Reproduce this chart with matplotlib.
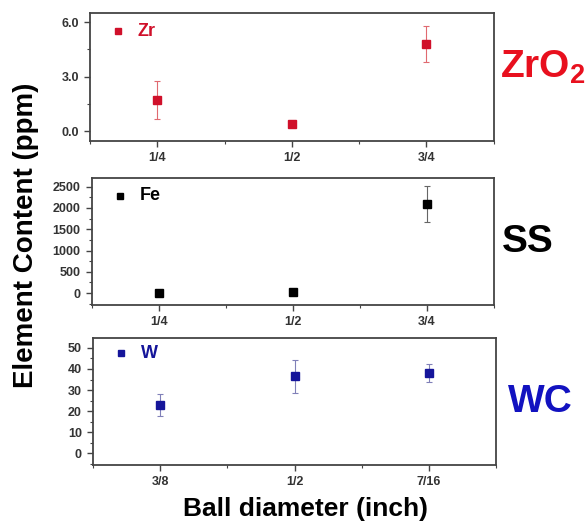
import numpy as np
import matplotlib
matplotlib.use('Agg')
import matplotlib.pyplot as plt
from matplotlib.ticker import MultipleLocator

plt.rcParams['font.family'] = ['Liberation Sans', 'DejaVu Sans']
plt.rcParams['mathtext.fontset'] = 'custom'
plt.rcParams['mathtext.rm'] = 'Liberation Sans:bold'

# data
zr_labels = ['1/4', '1/2', '3/4']
zr_vals = [1.7, 0.4, 4.8]
zr_err = [1.05, 0.1, 1.0]

fe_labels = ['1/4', '1/2', '3/4']
fe_vals = [10, 20, 2090]
fe_err = [15, 15, 420]

w_labels = ['3/8', '1/2', '7/16']
w_vals = [23, 36.5, 38]
w_err = [5.2, 7.8, 4.3]

panels = [
    dict(labels=zr_labels, vals=zr_vals, err=zr_err, color='#d0102a', ecolor='#e06a70',
         leg='Zr', side='ZrO$_\\mathrm{2}$', scolor='#e8101e', ylim=(-0.55, 6.5), major=3.0, minor=1.5,
         fmt='%.1f', rect=[0.154, 0.730, 0.690, 0.245], ly=0.86, sx=0.855, sy=0.851),
    dict(labels=fe_labels, vals=fe_vals, err=fe_err, color='black', ecolor='#666666',
         leg='Fe', side='SS', scolor='black', ylim=(-280, 2710), major=500, minor=250,
         fmt='%d', rect=[0.157, 0.417, 0.687, 0.243], ly=0.86, sx=0.858, sy=0.518),
    dict(labels=w_labels, vals=w_vals, err=w_err, color='#15159a', ecolor='#8080b8',
         leg='W', side='WC', scolor='#1212c0', ylim=(-5.6, 54.8), major=10, minor=5,
         fmt='%d', rect=[0.159, 0.111, 0.689, 0.243], ly=0.88, sx=0.868, sy=0.212),
]

fig = plt.figure(figsize=(5.85, 5.23), dpi=100)

for p in panels:
    ax = fig.add_axes(p['rect'])
    x = np.arange(1, len(p['vals']) + 1)
    ax.errorbar(x, p['vals'], yerr=p['err'], fmt='none', ecolor=p['ecolor'],
                elinewidth=0.8, capsize=2.5, capthick=0.8)
    ax.plot(x, p['vals'], 's', color=p['color'], markersize=6)
    # legend entry
    ax.plot([0.07], [p['ly']], 's', color=p['color'], markersize=4.5, transform=ax.transAxes)
    ax.text(0.118, p['ly'], p['leg'], color=p['color'], fontsize=13, fontweight='bold',
            va='center', ha='left', transform=ax.transAxes)
    ax.set_xlim(0.5, 3.5)
    ax.set_ylim(*p['ylim'])
    ax.set_xticks(x)
    ax.set_xticklabels(p['labels'])
    ax.xaxis.set_minor_locator(MultipleLocator(0.5))
    ax.yaxis.set_major_locator(MultipleLocator(p['major']))
    ax.yaxis.set_minor_locator(MultipleLocator(p['minor']))
    ax.yaxis.set_major_formatter(matplotlib.ticker.FormatStrFormatter(p['fmt']))
    ax.tick_params(which='major', direction='out', length=4.5, width=1, labelsize=9,
                   labelcolor='#333333', color='#444444')
    ax.tick_params(which='minor', direction='out', length=2.5, width=0.8, color='#444444')
    for lab in ax.get_xticklabels() + ax.get_yticklabels():
        lab.set_fontweight('bold')
    for s in ax.spines.values():
        s.set_linewidth(1.3)
        s.set_color('#444444')
    fig.text(p['sx'], p['sy'], p['side'], color=p['scolor'], fontsize=28, fontweight='bold',
             ha='left', va='baseline')

fig.text(0.045, 0.55, 'Element Content (ppm)', rotation=90, fontsize=20,
         fontweight='bold', ha='center', va='center')
fig.text(0.522, 0.027, 'Ball diameter (inch)', fontsize=19, fontweight='bold',
         ha='center', va='center')

fig.savefig('out.png', dpi=100)
